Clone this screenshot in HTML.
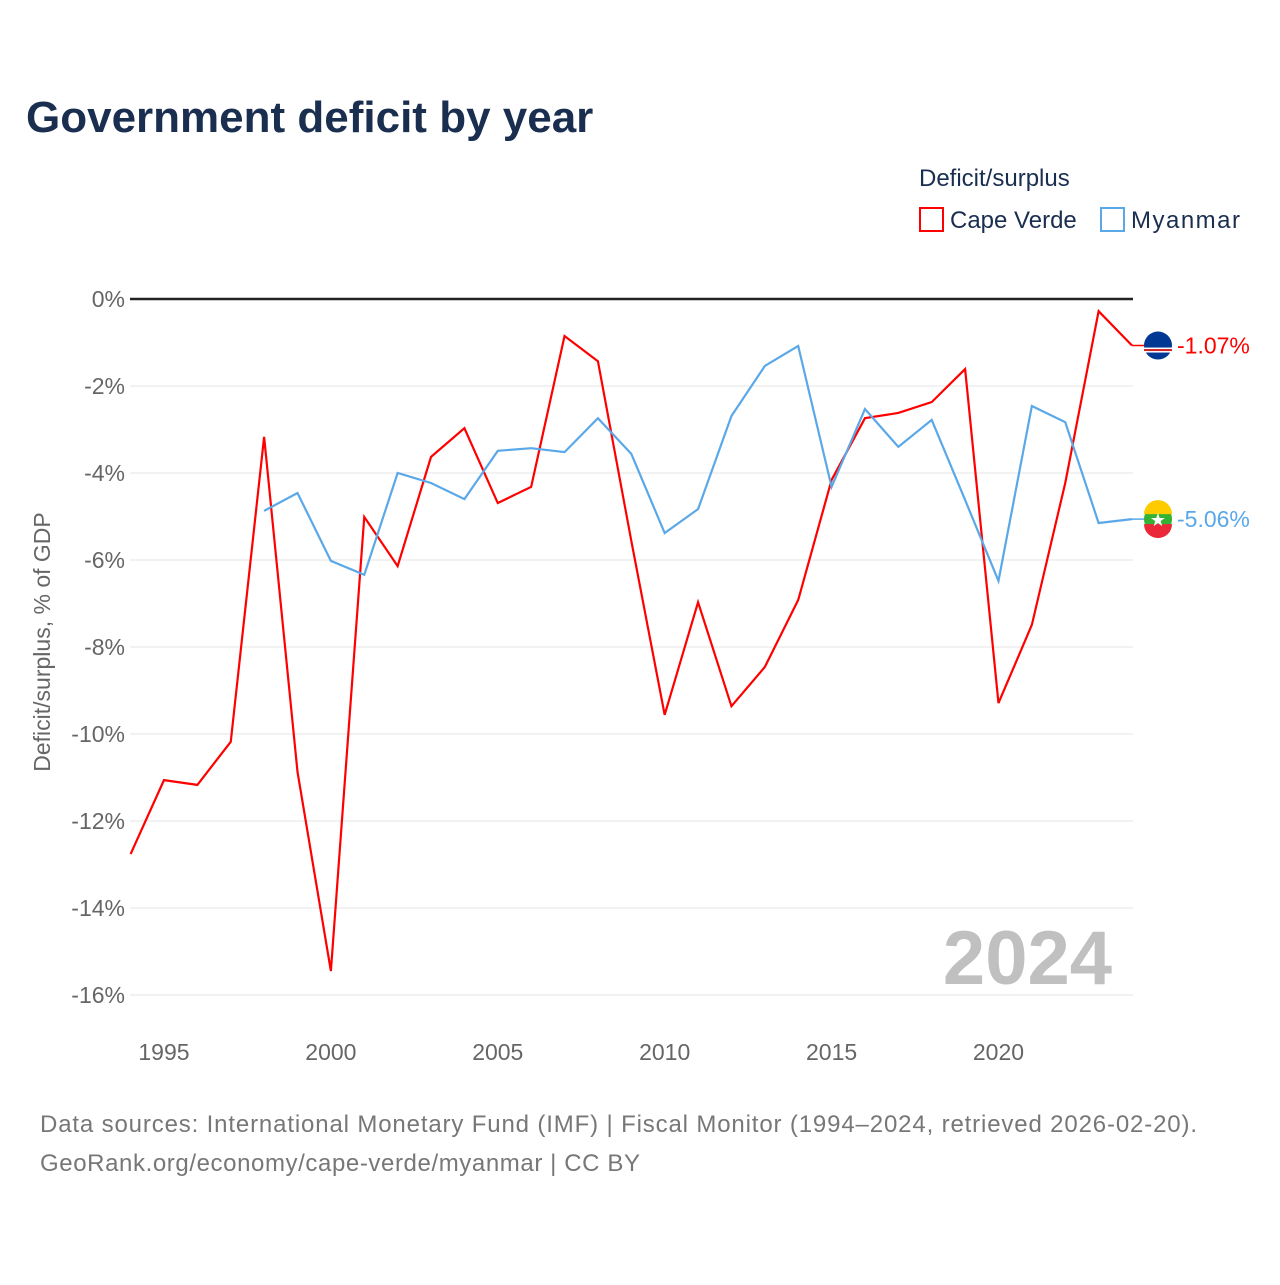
<!DOCTYPE html>
<html><head><meta charset="utf-8"><style>
body{margin:0;background:#fff;font-family:"Liberation Sans",sans-serif;}
svg text{font-family:"Liberation Sans",sans-serif;}
</style></head><body>
<svg id="chart" width="1280" height="1280" viewBox="0 0 1280 1280">
<text x="26" y="132" font-size="44" font-weight="bold" fill="#1a2e4f">Government deficit by year</text>
<text x="919" y="186" font-size="24" fill="#1a2e4f">Deficit/surplus</text>
<g><rect x="920" y="208" width="23" height="23" fill="none" stroke="#ff0000" stroke-width="2"/><text x="950" y="228" font-size="24" fill="#1a2e4f">Cape Verde</text></g>
<g><rect x="1101" y="208" width="23" height="23" fill="none" stroke="#5aa8e8" stroke-width="2"/><text x="1131" y="228" font-size="24" fill="#1a2e4f" textLength="109">Myanmar</text></g>
<g id="grid"></g><g id="yt"></g><g id="xt"></g>
<text transform="translate(50,642) rotate(-90)" text-anchor="middle" font-size="23" fill="#666">Deficit/surplus, % of GDP</text>
<text x="1112" y="984" text-anchor="end" font-size="76" font-weight="bold" fill="#c0c0c0">2024</text>
<g id="series"></g>
<text x="40" y="1132" font-size="24" fill="#777" textLength="1157">Data sources: International Monetary Fund (IMF) | Fiscal Monitor (1994–2024, retrieved 2026-02-20).</text>
<text x="40" y="1171" font-size="24" fill="#777" textLength="600">GeoRank.org/economy/cape-verde/myanmar | CC BY</text>
</svg>
<script>
const yTicks=[0,-2,-4,-6,-8,-10,-12,-14,-16];
const xTicks=[1995,2000,2005,2010,2015,2020];
const cvYears=[1994,1995,1996,1997,1998,1999,2000,2001,2002,2003,2004,2005,2006,2007,2008,2009,2010,2011,2012,2013,2014,2015,2016,2017,2018,2019,2020,2021,2022,2023,2024];
const cvValues=[-12.76,-11.06,-11.17,-10.18,-3.17,-10.87,-15.45,-5.01,-6.14,-3.63,-2.97,-4.69,-4.32,-0.85,-1.43,-5.56,-9.56,-6.97,-9.36,-8.46,-6.92,-4.16,-2.74,-2.62,-2.37,-1.61,-9.29,-7.49,-4.23,-0.28,-1.07];
const mmYears=[1998,1999,2000,2001,2002,2003,2004,2005,2006,2007,2008,2009,2010,2011,2012,2013,2014,2015,2016,2017,2018,2019,2020,2021,2022,2023,2024];
const mmValues=[-4.87,-4.46,-6.02,-6.34,-4.0,-4.23,-4.6,-3.49,-3.43,-3.52,-2.74,-3.56,-5.38,-4.83,-2.69,-1.54,-1.08,-4.32,-2.53,-3.4,-2.78,-4.62,-6.48,-2.46,-2.83,-5.15,-5.06];
const X=yr=>130.6+(yr-1994)*(1132-130.6)/30;
const Y=v=>299-v*43.5;
const NS="http://www.w3.org/2000/svg";
function mk(t,a,p){const e=document.createElementNS(NS,t);for(const k in a)e.setAttribute(k,a[k]);p.appendChild(e);return e;}
const grid=document.getElementById('grid'),yt=document.getElementById('yt'),xt=document.getElementById('xt'),ser=document.getElementById('series');
yTicks.forEach(v=>{
 const l=mk('line',{x1:130,x2:1133,y1:Y(v),y2:Y(v),stroke:v===0?'#222':'#e4e4e4','stroke-width':v===0?2.5:1},grid);
 
 
 const t=mk('text',{x:125,y:Y(v)+8,'text-anchor':'end','font-size':23,fill:'#666'},yt);
 t.textContent=v+'%';
 
 
});
xTicks.forEach(yr=>{
 const t=mk('text',{x:X(yr),y:1060,'text-anchor':'middle','font-size':23,fill:'#666'},xt);
 t.textContent=yr;
 
 
});
function line(ys,vs,c,name){
 const p=mk('polyline',{points:ys.map((y,i)=>X(y)+','+Y(vs[i])).join(' '),fill:'none',stroke:c,'stroke-width':2.2},ser);
 
 
 const lv=vs[vs.length-1],ly=Y(lv);
 const ln=mk('line',{x1:X(2024),x2:1150,y1:ly,y2:ly,stroke:c,'stroke-width':1.5},ser);
 
 
 return ly;
}
const cy=line(cvYears,cvValues,'#ff0000','cape-verde-line');
const my=line(mmYears,mmValues,'#5aa8e8','myanmar-line');
let g=mk('g',{},ser);
mk('circle',{cx:1158,cy:cy,r:14,fill:'#003893'},g);
mk('rect',{x:1144,y:cy+2,width:28,height:5,fill:'#fff'},g);
mk('rect',{x:1144,y:cy+3.5,width:28,height:2,fill:'#cf2027'},g);
let t=mk('text',{x:1177,y:cy+8,'font-size':23,fill:'#ff0000'},ser);t.textContent=cvValues[cvValues.length-1].toFixed(2)+'%';


g=mk('g',{},ser);
mk('circle',{cx:1158,cy:my,r:14,fill:'#34b233'},g);
mk('path',{d:`M1144,${my-5} A14,14 0 0 1 1172,${my-5} Z`,fill:'#fecb00'},g);
mk('path',{d:`M1144,${my+5} A14,14 0 0 0 1172,${my+5} Z`,fill:'#ea2839'},g);
mk('text',{x:1158,y:my+7,'text-anchor':'middle','font-size':18,fill:'#fff'},g).textContent='★';
t=mk('text',{x:1177,y:my+8,'font-size':23,fill:'#5aa8e8'},ser);t.textContent=mmValues[mmValues.length-1].toFixed(2)+'%';


</script>
</body></html>
